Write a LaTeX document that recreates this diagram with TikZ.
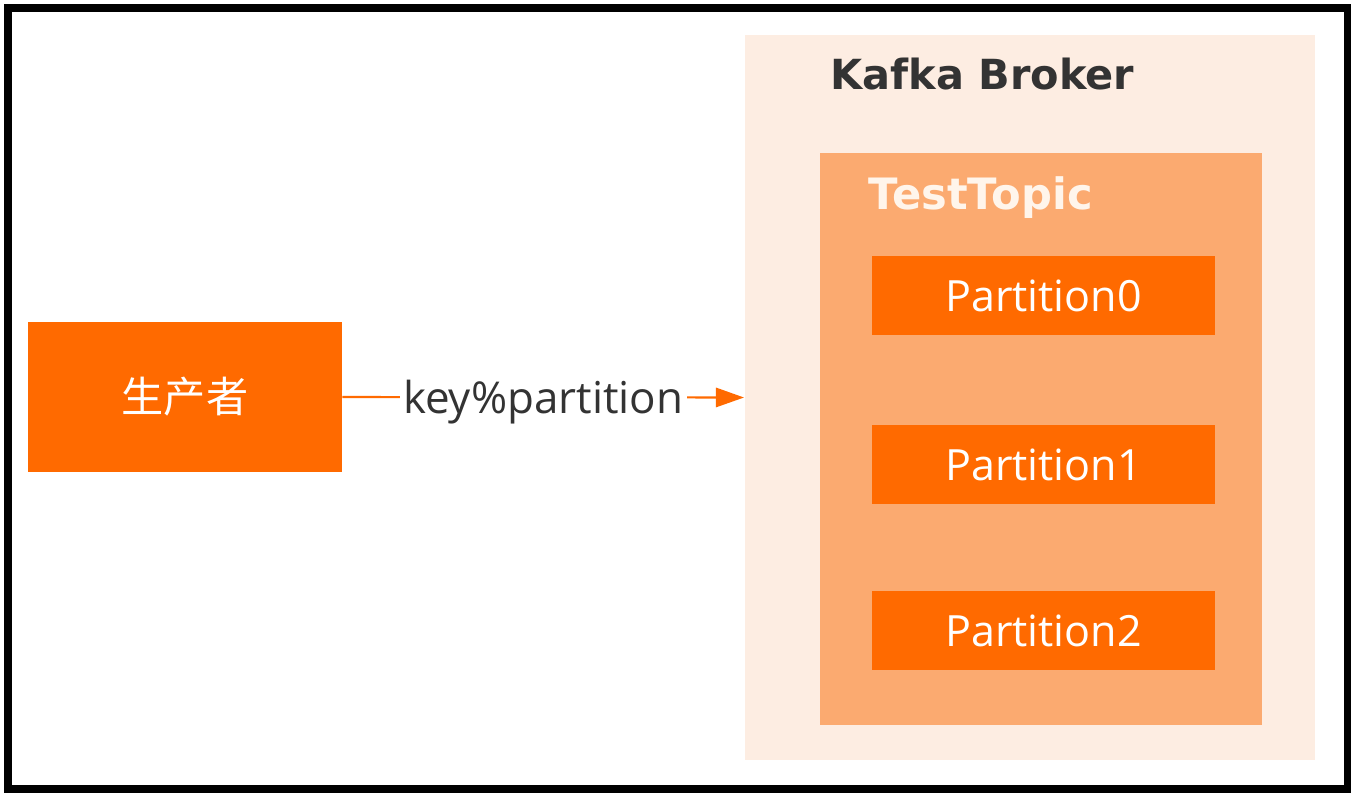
\documentclass[tikz,border=0pt]{standalone}
\usepackage{fontspec}
\usepackage{xcolor}
\setmainfont{Open Sans}
\newfontfamily\cjk{Noto Sans CJK SC}
\newfontfamily\titlefont{DejaVu Sans}
\usetikzlibrary{arrows.meta}
\definecolor{kafkaorange}{HTML}{FF6A00}
\definecolor{topicorange}{HTML}{FBAA70}
\definecolor{brokerbg}{HTML}{FDEDE2}
\definecolor{darktext}{HTML}{333333}
\tikzset{
  orangebox/.style={fill=kafkaorange,text=white,inner sep=0pt},
  partbox/.style={orangebox,minimum width=6.86cm,minimum height=1.58cm,font=\fontsize{24.5}{28}\selectfont},
  titlelabel/.style={anchor=west,inner sep=0pt,font=\titlefont\bfseries\fontsize{#1}{26}\selectfont}
}
\begin{document}
\begin{tikzpicture}[x=0.02cm,y=-0.02cm]
\useasboundingbox (0,0) rectangle (1356,798);
\fill[white] (0,0) rectangle (1356,798);
\node[fill=brokerbg,minimum width=11.4cm,minimum height=14.5cm,inner sep=0pt] (broker) at (1030,397.5) {};
\node[fill=topicorange,minimum width=8.84cm,minimum height=11.44cm,inner sep=0pt] (topic) at (1041,439) {};
\node[titlelabel=23.6,text=darktext] (brokerlabel) at (830,74) {Kafka Broker};
\node[titlelabel=24.6,text=white!92!orange] (topiclabel) at (868,198) {TestTopic};
\node[partbox] (p0) at (1043.5,295.5) {Partition0};
\node[partbox] (p1) at (1043.5,464.5) {Partition1};
\node[partbox] (p2) at (1043.5,630.5) {Partition2};
\node[orangebox,minimum width=6.28cm,minimum height=3cm,font=\cjk\fontsize{24}{28}\selectfont] (producer) at (185,397) {生产者};
\coordinate (arrowtip) at (744,397.5);
\draw[kafkaorange,line width=1.2pt,-{Triangle[length=16pt,width=11pt]}] (producer.east) -- (arrowtip)
  node[midway,fill=white,text=darktext,inner sep=2pt,yshift=-3pt,font=\fontsize{25}{29}\selectfont] (keylabel) {key\%partition};
\draw[line width=4pt] (8,8) rectangle (1347,789);
\end{tikzpicture}
\end{document}
